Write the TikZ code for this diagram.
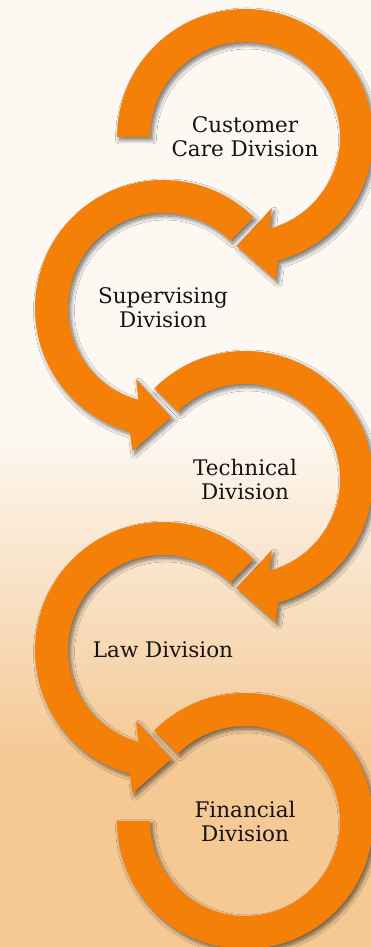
\documentclass[tikz,border=0pt]{standalone}
\usepackage{fontspec}
\setmainfont{DejaVu Serif}
\usetikzlibrary{calc,shadows.blur}

\definecolor{arrorange}{RGB}{245,128,8}
\definecolor{bgtop}{RGB}{253,248,242}
\definecolor{bgbot}{RGB}{245,200,148}

\begin{document}
\begin{tikzpicture}[
        x=1pt, y=1pt,
        ring/.style = {fill=arrorange, blur shadow={shadow xshift=2.5pt, shadow yshift=-3pt, shadow blur radius=4pt, shadow blur steps=8, shadow opacity=55}},
        division/.style = {align=center, font=\fontsize{21.5}{24}\selectfont, text=black!92}
    ]

        % Background
        \useasboundingbox (0,0) rectangle (371,947);
        \clip (0,0) rectangle (371,947);
        \fill[bgtop] (0,516) rectangle (371,947);
        \shade[top color=bgtop, bottom color=bgbot] (0,187) rectangle (371,517);
        \fill[bgbot] (0,0) rectangle (371,188);

        % Place nodes
        \node[division] at (245,810) (cust) {Customer\\ Care Division};
        \node[division] at (163,639) (super) {Supervising\\ Division};
        \node[division] at (245,468) (tech) {Technical\\ Division};
        \node[division] at (163,297) (law) {Law Division};
        \node[division] at (245,126) (fin) {Financial\\ Division};

        % Draw circular arrows
        \fill[ring] ($(cust)+(180:128pt)$) arc[start angle=180, end angle=-75, radius=128pt]
            -- ($(cust)+(-75:111pt)+(-87:36pt)$) -- ($(cust)+(-75:111pt)+(-177:37pt)$) -- ($(cust)+(-75:111pt)+(93:36pt)$)
            -- ($(cust)+(-75:95pt)$) arc[start angle=-75, end angle=180, radius=95pt] -- cycle;
        \fill[ring] ($(super)+(45:128pt)$) arc[start angle=45, end angle=255, radius=128pt]
            -- ($(super)+(255:111pt)+(267:36pt)$) -- ($(super)+(255:111pt)+(357:37pt)$) -- ($(super)+(255:111pt)+(87:36pt)$)
            -- ($(super)+(255:95pt)$) arc[start angle=255, end angle=45, radius=95pt] -- cycle;
        \fill[ring] ($(tech)+(135:128pt)$) arc[start angle=135, end angle=-75, radius=128pt]
            -- ($(tech)+(-75:111pt)+(-87:36pt)$) -- ($(tech)+(-75:111pt)+(-177:37pt)$) -- ($(tech)+(-75:111pt)+(93:36pt)$)
            -- ($(tech)+(-75:95pt)$) arc[start angle=-75, end angle=135, radius=95pt] -- cycle;
        \fill[ring] ($(law)+(45:128pt)$) arc[start angle=45, end angle=255, radius=128pt]
            -- ($(law)+(255:111pt)+(267:36pt)$) -- ($(law)+(255:111pt)+(357:37pt)$) -- ($(law)+(255:111pt)+(87:36pt)$)
            -- ($(law)+(255:95pt)$) arc[start angle=255, end angle=45, radius=95pt] -- cycle;
        \fill[ring] ($(fin)+(135:128pt)$) arc[start angle=135, end angle=-180, radius=128pt]
            -- ($(fin)+(180:95pt)$) arc[start angle=-180, end angle=135, radius=95pt] -- cycle;

\end{tikzpicture}
\end{document}
